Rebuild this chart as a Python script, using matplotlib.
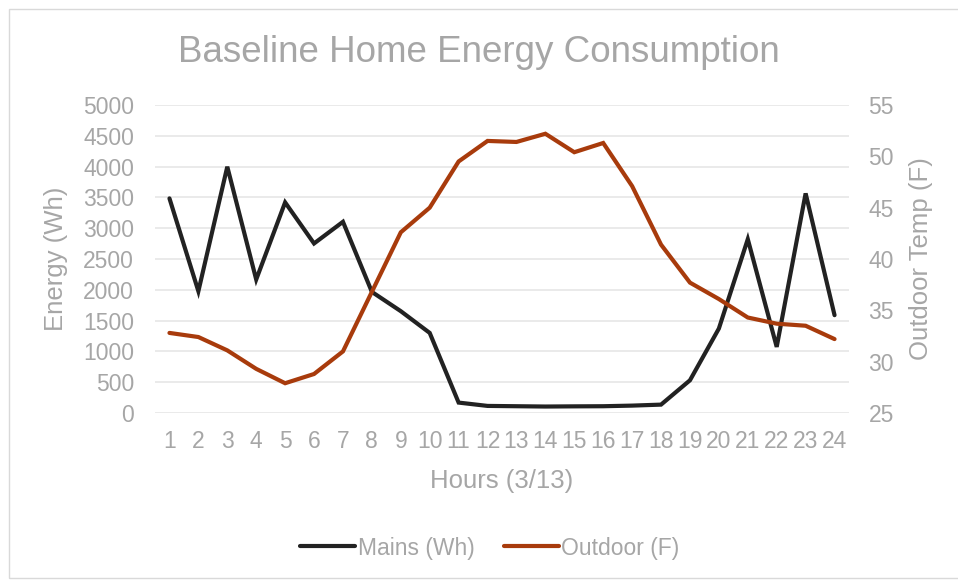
import matplotlib
matplotlib.use("Agg")
import matplotlib.pyplot as plt
from matplotlib.patches import Rectangle

hours = list(range(1, 25))
hour_labels = [str(h) for h in hours]
mains_wh = [3484, 1977, 3998, 2167, 3419, 2752, 3104, 1966, 1653, 1300, 169, 115,
            110, 105, 108, 110, 120, 136, 531, 1371, 2822, 1073, 3565, 1588]
outdoor_f = [32.8, 32.4, 31.1, 29.3, 27.9, 28.8, 31.0, 36.8, 42.6, 45.0, 49.5, 51.5,
             51.4, 52.2, 50.4, 51.3, 47.1, 41.4, 37.7, 36.1, 34.3, 33.7, 33.5, 32.2]
left_ticks = [0, 500, 1000, 1500, 2000, 2500, 3000, 3500, 4000, 4500, 5000]
right_ticks = [25, 30, 35, 40, 45, 50, 55]

plt.rcParams['font.family'] = ['Liberation Sans', 'DejaVu Sans']
gray = '#A6A6A6'
black = '#222222'
orange = '#A83B0C'

fig = plt.figure(figsize=(9.58, 5.8), dpi=100)
fig.patches.append(Rectangle((9/958, 2/580), 1.0, 1-11/580, transform=fig.transFigure,
                             fill=False, edgecolor='#D9D9D9', linewidth=1))
ax = fig.add_axes([155/958, 1-413/580, (849-155)/958, (413-105)/580])
ax2 = ax.twinx()

ax.plot(hours, mains_wh, color=black, lw=3.0, solid_capstyle='round', solid_joinstyle='miter', zorder=3, label='Mains (Wh)')
ax2.plot(hours, outdoor_f, color=orange, lw=3.0, solid_capstyle='round', solid_joinstyle='miter', zorder=3, label='Outdoor (F)')

ax.set_xlim(0.5, 24.5)
ax.set_ylim(0, 5000)
ax2.set_ylim(25, 55)
ax.set_yticks(left_ticks)
ax2.set_yticks(right_ticks)
ax.set_xticks(hours)
ax.set_xticklabels(hour_labels)
ax.grid(axis='y', color='#E6E6E6', lw=1.2, zorder=0)
ax.set_axisbelow(True)
for a in (ax, ax2):
    for s in a.spines.values():
        s.set_visible(False)
    a.tick_params(length=0, labelsize=16.5, labelcolor=gray)
ax.tick_params(axis='y', pad=15)
ax2.tick_params(axis='y', pad=14)
ax.tick_params(axis='x', pad=12)

ax.set_ylabel('Energy (Wh)', fontsize=18.5, color=gray, labelpad=11)
ax2.set_ylabel('Outdoor Temp (F)', fontsize=18.5, color=gray, labelpad=11)
ax.set_xlabel('Hours (3/13)', fontsize=18.5, color=gray, labelpad=12)
fig.text(0.5, 1-52/580, 'Baseline Home Energy Consumption', ha='center', va='center',
         fontsize=26.5, color=gray)

h1, l1 = ax.get_legend_handles_labels()
h2, l2 = ax2.get_legend_handles_labels()
fig.legend(h1 + h2, l1 + l2, loc='center', bbox_to_anchor=(490/958, 1-548/580), ncol=2,
           frameon=False, fontsize=16.5, labelcolor=gray, handlelength=2.4,
           handletextpad=0.1, columnspacing=1.3)

fig.savefig('out.png', dpi=100)
